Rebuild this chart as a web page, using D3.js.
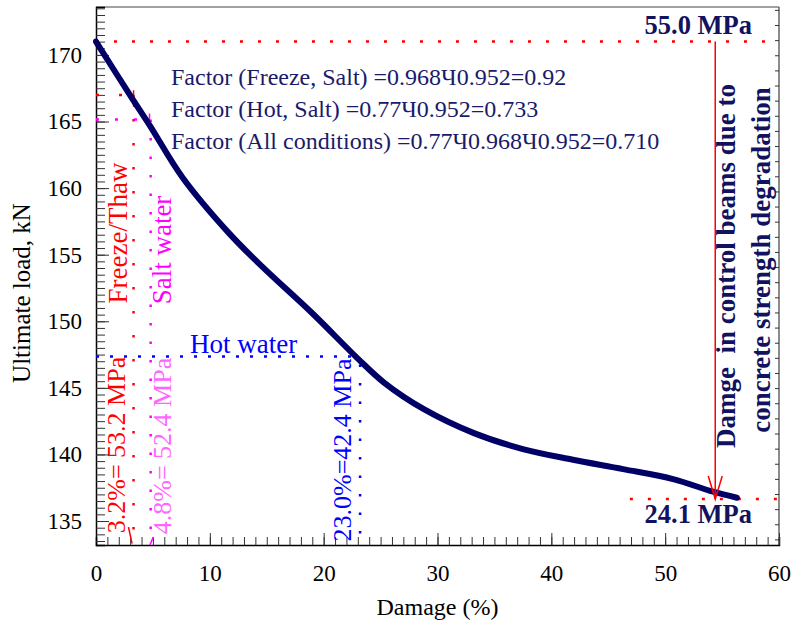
<!DOCTYPE html>
<html>
<head>
<meta charset="utf-8">
<script src="https://cdn.jsdelivr.net/npm/d3@7"></script>
<style>
  body { margin: 0; background: #fff; }
  text { font-family: "Liberation Serif", "Times New Roman", serif; }
</style>
</head>
<body>
<div id="chart"></div>
<script>
// curve: damage (%) vs ultimate load (kN)
var damage = [0, 3.2, 4.8, 7.6, 11.7, 14.6, 19.0, 23.0, 25.3, 28.8, 33.2, 37.5, 41.9, 46.3, 50.7, 54.2, 56.3];
var load   = [171.0, 166.7, 164.6, 160.8, 156.6, 154.1, 150.6, 147.2, 145.4, 143.4, 141.6, 140.4, 139.6, 138.9, 138.15, 137.2, 136.75];

var xTicks = [0, 10, 20, 30, 40, 50, 60];
var yTicks = [135, 140, 145, 150, 155, 160, 165, 170];

// annotation levels (damage %, load kN)
var topLoad = 171.0, bottomLoad = 136.65;
var arrowDamage = 54.4, bottomLineStart = 46.9;
var freeze = {damage: 3.3, load: 167.0};
var salt   = {damage: 4.8, load: 165.15};
var hot    = {damage: 23.2, load: 147.35, lineEnd: 22.4};

var factorLines = [
  "Factor (Freeze, Salt) =0.968\u04270.952=0.92",
  "Factor (Hot, Salt) =0.77\u04270.952=0.733",
  "Factor (All conditions) =0.77\u04270.968\u04270.952=0.710"
];

var margin = {top: 7, right: 16, bottom: 83, left: 96},
    width = 795 - margin.left - margin.right,
    height = 628 - margin.top - margin.bottom;

var svg = d3.select("#chart")
  .append("svg")
    .attr("width", 795)
    .attr("height", 628)
  .append("g")
    .attr("transform", "translate(" + margin.left + "," + margin.top + ")");

var x = d3.scaleLinear().domain([0, 60]).range([0, width]);
var y = d3.scaleLinear().domain([133.2, 173.6]).range([height, 0]);
// secondary (strength, MPa) scale on the right, ticks only
var yR = d3.scaleLinear().domain([20.63, 56.19]).range([height, 0]);

// frame
svg.append("line").attr("x1", 0).attr("x2", width).attr("y1", 0).attr("y2", 0)
  .attr("stroke", "#444").attr("stroke-width", 1);
svg.append("line").attr("x1", width).attr("x2", width).attr("y1", 0).attr("y2", height)
  .attr("stroke", "#666").attr("stroke-width", 1.5);

// right axis ticks
svg.append("g")
  .attr("transform", "translate(" + width + ",0)")
  .call(d3.axisLeft(yR).tickValues(d3.range(21, 57, 1)).tickSize(4).tickFormat(""))
  .call(g => g.select(".domain").remove())
  .selectAll("line").attr("stroke", "#666");

// bottom axis
var xAxis = svg.append("g").attr("transform", "translate(0," + height + ")");
xAxis.call(d3.axisBottom(x).tickValues(d3.range(0, 61, 1)).tickSize(-8).tickFormat(""))
  .call(g => g.select(".domain").attr("stroke-width", 1.5));
xAxis.append("g")
  .call(d3.axisBottom(x).tickValues(xTicks).tickSize(-12).tickPadding(20))
  .call(g => g.select(".domain").remove())
  .selectAll("text")
    .style("font-size", "23px")
    .style("font-family", "Liberation Serif")
    .attr("fill", "#000");

// left axis
var yAxis = svg.append("g");
yAxis.call(d3.axisLeft(y).tickValues(d3.range(133.5, 173.6, 0.5)).tickSize(-9).tickFormat(""))
  .call(g => g.select(".domain").attr("stroke-width", 1.5));
yAxis.append("g")
  .call(d3.axisLeft(y).tickValues(yTicks).tickSize(-13).tickPadding(14))
  .call(g => g.select(".domain").remove())
  .selectAll("text")
    .style("font-size", "23px")
    .style("font-family", "Liberation Serif")
    .attr("fill", "#000");
svg.selectAll(".tick line").attr("stroke", "#333");

// axis labels
svg.append("text")
  .attr("transform", "translate(" + (width / 2) + "," + (height + 70) + ")")
  .style("text-anchor", "middle")
  .style("font-size", "24px")
  .text("Damage (%)");

svg.append("text")
  .attr("transform", "translate(-66," + 286 + ")rotate(-90)")
  .style("text-anchor", "middle")
  .style("font-size", "25px")
  .text("Ultimate load, kN");

// dotted reference lines
function hline(xa, xb, v, color, dash) {
  svg.append("line")
    .attr("x1", x(xa)).attr("x2", x(xb)).attr("y1", y(v)).attr("y2", y(v))
    .attr("stroke", color).attr("stroke-width", 2.5).attr("stroke-dasharray", dash);
}
function vline(d, va, vb, color, dash, w) {
  svg.append("line")
    .attr("x1", x(d)).attr("x2", x(d)).attr("y1", y(va)).attr("y2", y(vb))
    .attr("stroke", color).attr("stroke-width", w || 2.5).attr("stroke-dasharray", dash);
}

hline(0, 60, topLoad, "#ff0000", "3 15");
hline(bottomLineStart, 60, bottomLoad, "#ff0000", "3 15");

hline(0, freeze.damage, freeze.load, "#ff0000", "3 20");
vline(freeze.damage, freeze.load, 133.2, "#ff0000", "2.5 21.5");
vline(freeze.damage, freeze.load + 0.35, freeze.load - 0.9, "#ff0000", null, 1.5);

hline(0, salt.damage, salt.load, "#ff00ff", "3 16");
vline(salt.damage, salt.load, 133.2, "#ff00ff", "2.5 16");
vline(salt.damage - 0.1, salt.load + 0.45, salt.load - 0.3, "#ff00ff", null, 1.5);

hline(0, hot.lineEnd, hot.load, "#0000ff", "3 11");
vline(hot.damage, hot.load - 0.6, 133.2, "#0000ff", "2.5 16");

// small tips near the axis
svg.append("line").attr("x1", x(2.85)).attr("y1", y(134.55)).attr("x2", x(3.17)).attr("y2", y(133.3))
  .attr("stroke", "#ff0000").attr("stroke-width", 1.5);
svg.append("line").attr("x1", x(5.03)).attr("y1", y(133.8)).attr("x2", x(4.74)).attr("y2", y(133.2))
  .attr("stroke", "#ff00ff").attr("stroke-width", 1.5);

// main curve
var pts = damage.map((d, i) => [d, load[i]]);
svg.append("path")
  .datum(pts)
  .attr("fill", "none")
  .attr("stroke", "#000066")
  .attr("stroke-width", 6)
  .attr("stroke-linecap", "round")
  .attr("d", d3.line().x(d => x(d[0])).y(d => y(d[1])).curve(d3.curveCatmullRom.alpha(0.5)));

// red arrow
var ax = x(arrowDamage), ay = y(bottomLoad);
svg.append("line").attr("x1", ax).attr("x2", ax).attr("y1", y(topLoad)).attr("y2", ay)
  .attr("stroke", "#ff0000").attr("stroke-width", 1.5);
svg.append("polyline")
  .attr("points", [[ax - 7, ay - 23], [ax, ay], [ax + 7, ay - 23]].join(" "))
  .attr("fill", "none").attr("stroke", "#ff0000").attr("stroke-width", 1.5);

// texts
var navy = "#12125e";
svg.selectAll(".factor")
  .data(factorLines)
  .enter()
  .append("text")
    .attr("class", "factor")
    .attr("x", 75)
    .attr("y", (d, i) => 78 + i * 32)
    .style("font-size", "24px")
    .attr("fill", "#1a1a6a")
    .text(d => d);

svg.append("text")
  .attr("x", 656).attr("y", 27)
  .style("text-anchor", "end").style("font-size", "26.5px").style("font-weight", "bold")
  .attr("fill", navy).text("55.0 MPa");
svg.append("text")
  .attr("x", 656).attr("y", 516)
  .style("text-anchor", "end").style("font-size", "26.5px").style("font-weight", "bold")
  .attr("fill", navy).text("24.1 MPa");

function vtext(px, py, str, color, size, bold) {
  svg.append("text")
    .attr("transform", "translate(" + px + "," + py + ")rotate(-90)")
    .style("text-anchor", "middle")
    .style("white-space", "pre")
    .style("font-size", size + "px")
    .style("font-weight", bold ? "bold" : "normal")
    .attr("fill", color)
    .text(str);
}

vtext(639, 259, "Damge  in control beams due to", navy, 27, true);
vtext(674, 253, "concrete strength degradation", navy, 27, true);

vtext(31, 226, "Freeze/Thaw", "#ff0000", 27);
vtext(75, 243, "Salt water", "#ff00ff", 27);
vtext(29, 438, "3.2%= 53.2 MPa", "#ff0000", 26);
vtext(75, 439, "4.8%= 52.4 MPa", "#ff66ff", 26);
vtext(255, 443, "23.0%=42.4 MPa", "#0000ff", 26);

svg.append("text")
  .attr("x", 94).attr("y", 346)
  .style("font-size", "27px")
  .attr("fill", "#0000ff")
  .text("Hot water");
</script>
</body>
</html>
